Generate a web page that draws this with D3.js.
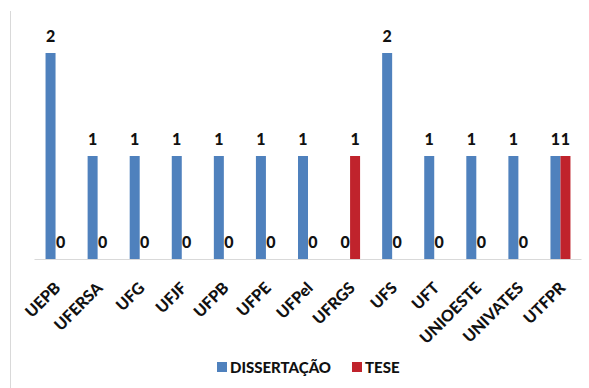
<!DOCTYPE html>
<html>
<head>
<meta charset="utf-8">
<script src="https://cdn.jsdelivr.net/npm/d3@7"></script>
<style>
  body { margin: 0; background: #fff; }
  svg { display: block; }
  text { font-family: Lato, "Open Sans", sans-serif; font-weight: bold; fill: #111; }
</style>
</head>
<body>
<svg width="589" height="388"></svg>
<script>
// dados do gráfico
const instituicoes = ["UEPB", "UFERSA", "UFG", "UFJF", "UFPB", "UFPE", "UFPel", "UFRGS", "UFS", "UFT", "UNIOESTE", "UNIVATES", "UTFPR"];
const dissertacao = [2, 1, 1, 1, 1, 1, 1, 0, 2, 1, 1, 1, 1];
const tese = [0, 0, 0, 0, 0, 0, 0, 1, 0, 0, 0, 0, 1];
const series = ["DISSERTAÇÃO", "TESE"];
const cores = ["#4f81bd", "#c0232c"];

const svg = d3.select("svg");

// borda esquerda da área do gráfico
svg.append("line")
    .attr("x1", 10.5).attr("x2", 10.5)
    .attr("y1", 11).attr("y2", 388)
    .attr("stroke", "#d9d9d9");

const x = d3.scaleBand().domain(instituicoes).range([34.5, 581.5]);
const xs = d3.scaleBand().domain(series).range([x.bandwidth() / 2 - 10, x.bandwidth() / 2 + 10]);
const y = d3.scaleLinear().domain([0, 2]).range([259, 53]);

const dados = instituicoes.map((inst, i) => ({
    inst,
    valores: [dissertacao[i], tese[i]]
}));

// eixo x (só a linha)
svg.append("line")
    .attr("x1", 34.5).attr("x2", 581.5)
    .attr("y1", 259.5).attr("y2", 259.5)
    .attr("stroke", "#d9d9d9");

const grupos = svg.selectAll("g.grupo")
    .data(dados)
    .enter()
    .append("g")
    .attr("class", "grupo")
    .attr("transform", d => `translate(${x(d.inst)},0)`);

grupos.selectAll("rect")
    .data(d => d.valores.map((v, j) => ({ serie: series[j], v, j })))
    .enter()
    .append("rect")
    .attr("x", d => xs(d.serie))
    .attr("width", xs.bandwidth())
    .attr("y", d => y(d.v))
    .attr("height", d => y(0) - y(d.v))
    .attr("fill", d => cores[d.j]);

// rótulos de valor
grupos.selectAll("text")
    .data(d => d.valores.map((v, j) => ({ serie: series[j], v, j })))
    .enter()
    .append("text")
    .attr("x", d => xs(d.serie) + xs.bandwidth() / 2)
    .attr("y", d => y(d.v) - 11)
    .attr("text-anchor", "middle")
    .style("font-size", "16px")
    .style("font-weight", "900")
    .text(d => d.v);

// rótulos das categorias, rotacionados
svg.selectAll("text.cat")
    .data(instituicoes)
    .enter()
    .append("text")
    .attr("class", "cat")
    .attr("text-anchor", "end")
    .style("font-size", "16px")
    .style("font-weight", "900")
    .attr("transform", d => `translate(${x(d) + x.bandwidth() / 2 + 6},${289}) rotate(-45)`)
    .text(d => d);

// legenda
const leg = svg.append("g").attr("transform", "translate(217,362)");
const legX = [0, 135];
series.forEach((s, i) => {
    leg.append("rect").attr("x", legX[i]).attr("y", 0).attr("width", 10).attr("height", 10).attr("fill", cores[i]);
    leg.append("text").attr("x", legX[i] + 13).attr("y", 10.5)
        .style("font-size", "15px").style("font-weight", "900").text(s);
});
</script>
</body>
</html>
